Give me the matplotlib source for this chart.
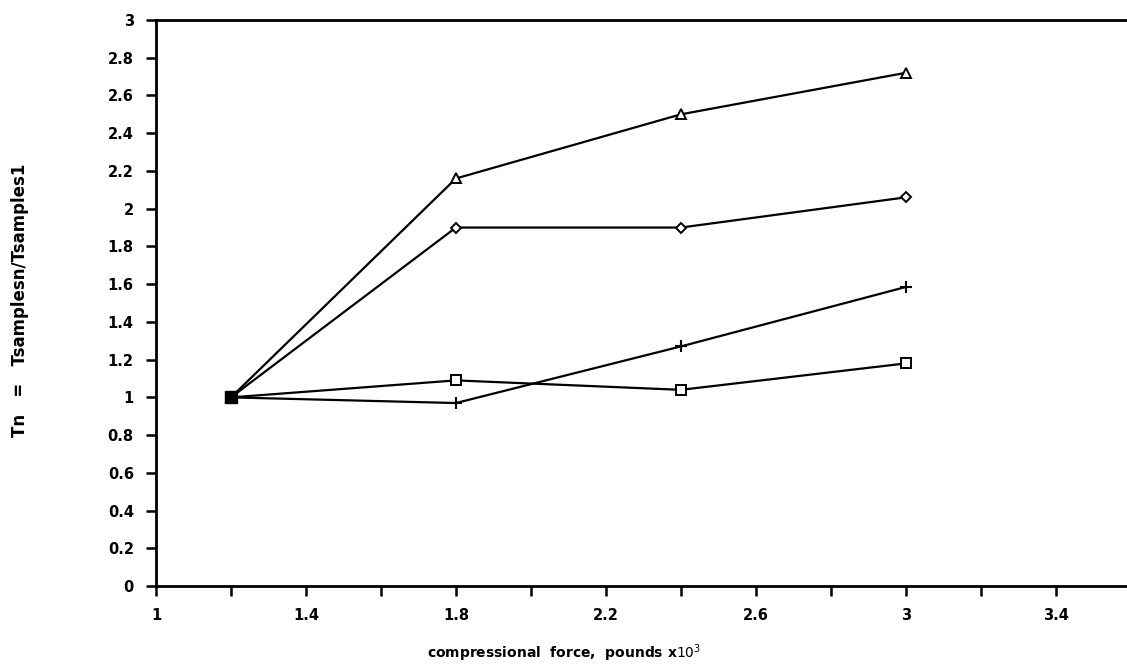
import matplotlib.pyplot as plt

# compressional force, pounds x 10^3
force = [1.2, 1.8, 2.4, 3.0]

# normalised Tn for each sample series
tn_triangle = [1.0, 2.16, 2.50, 2.72]
tn_diamond = [1.0, 1.90, 1.90, 2.06]
tn_plus = [1.0, 0.97, 1.27, 1.585]
tn_square = [1.0, 1.09, 1.04, 1.18]

xticks = [1.0, 1.2, 1.4, 1.6, 1.8, 2.0, 2.2, 2.4, 2.6, 2.8, 3.0, 3.2, 3.4]
xticklabels = ['1', '', '1.4', '', '1.8', '', '2.2', '', '2.6', '', '3', '', '3.4']
yticks = [0, 0.2, 0.4, 0.6, 0.8, 1, 1.2, 1.4, 1.6, 1.8, 2, 2.2, 2.4, 2.6, 2.8, 3]
yticklabels = ['0', '0.2', '0.4', '0.6', '0.8', '1', '1.2', '1.4', '1.6',
               '1.8', '2', '2.2', '2.4', '2.6', '2.8', '3']

fig = plt.figure(figsize=(11.27, 6.66), dpi=100)
ax = fig.add_axes([0.1384, 0.12, 0.8616, 0.85])

lw = 1.6
ax.plot(force, tn_triangle, color='black', lw=lw, marker='^', ms=7,
        mfc='white', mec='black', mew=1.4)
ax.plot(force, tn_diamond, color='black', lw=lw, marker='D', ms=5,
        mfc='white', mec='black', mew=1.4)
ax.plot(force, tn_plus, color='black', lw=lw, marker='+', ms=9,
        mec='black', mew=1.5)
ax.plot(force, tn_square, color='black', lw=lw, marker='s', ms=7,
        mfc='white', mec='black', mew=1.4)
# all series share the first point, which prints as a solid block
ax.plot(force[0], tn_square[0], marker='s', ms=8, color='black', ls='none')

ax.set_xlim(1.0, 3.59)
ax.set_ylim(0, 3)
ax.set_xticks(xticks)
ax.set_xticklabels(xticklabels)
ax.set_yticks(yticks)
ax.set_yticklabels(yticklabels)

for side in ['left', 'bottom', 'top']:
    ax.spines[side].set_linewidth(2.0)
ax.spines['right'].set_visible(False)

ax.tick_params(direction='out', length=7, width=1.8, pad=9,
               labelsize=10.5)
for lab in ax.get_xticklabels() + ax.get_yticklabels():
    lab.set_fontweight('bold')

ax.set_xlabel('compressional  force,  pounds x$10^3$', fontsize=10,
              fontweight='bold')
ax.set_ylabel('Tn   =   Tsamplesn/Tsamples1', fontsize=12,
              fontweight='bold')
ax.xaxis.set_label_coords(0.42, -0.1)
ax.yaxis.set_label_coords(-0.131, 0.505)

plt.savefig('out.png', dpi=100)
